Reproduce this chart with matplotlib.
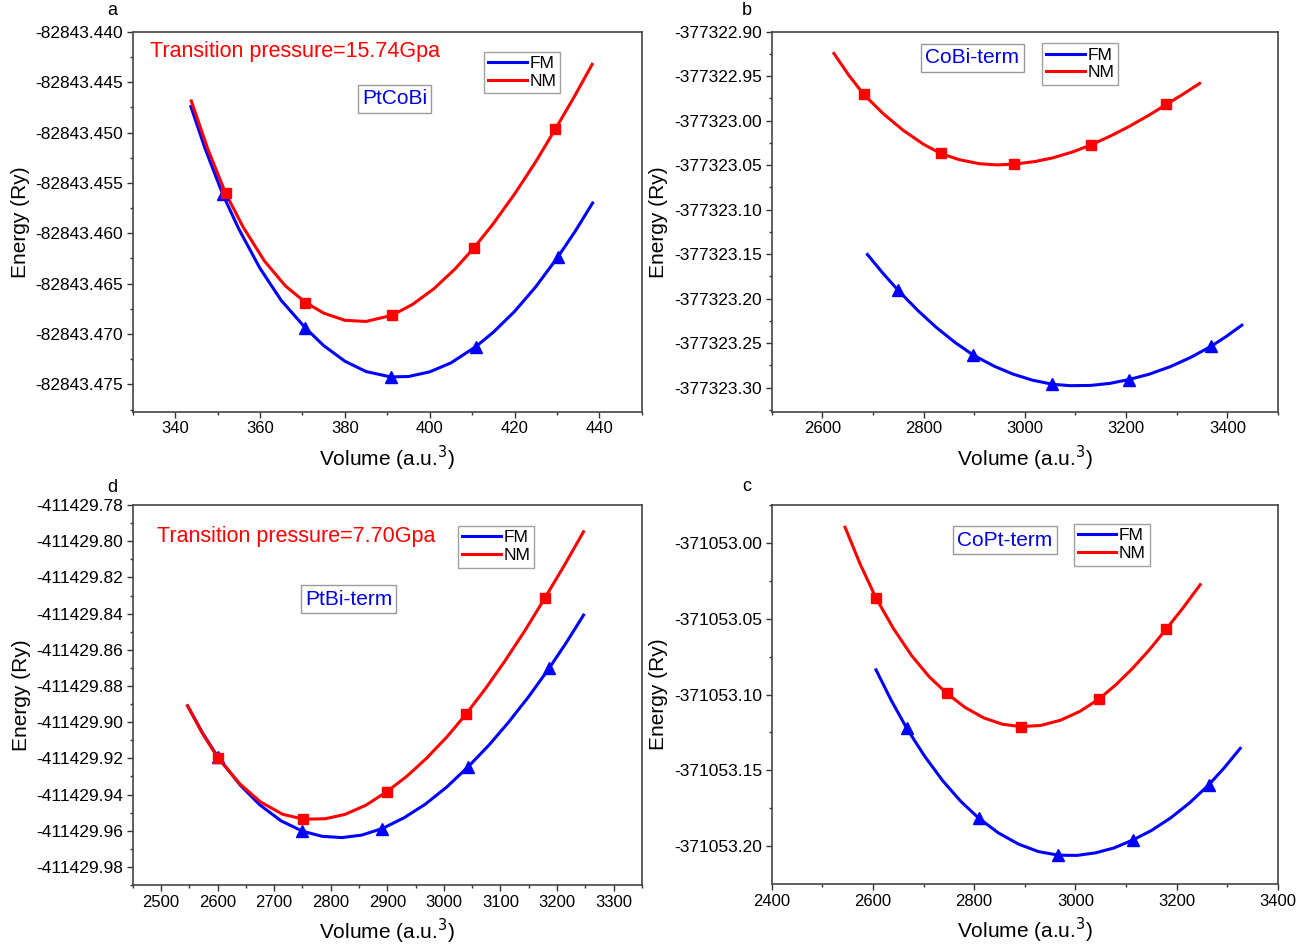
"""
E-V curves (FM vs NM) for PtCoBi and its terminations, 2x2 panel figure.
"""

import matplotlib
matplotlib.use("Agg")
import matplotlib.pyplot as plt
from matplotlib.ticker import MultipleLocator, FormatStrFormatter

plt.rcParams["font.family"] = ["Liberation Sans", "DejaVu Sans"]

# ---- panel a: PtCoBi ----
A_FM_V = [351.2, 370.7, 390.8, 410.8, 430.2]
A_FM_E = [-82843.4561, -82843.4694, -82843.4743, -82843.4713, -82843.4624]
A_NM_V = [351.9, 370.7, 391.1, 410.4, 429.6]
A_NM_E = [-82843.4560, -82843.4669, -82843.4681, -82843.4615, -82843.4497]
A_FM_CURVE_V = [343.7, 347.0, 351.2, 355.0, 360.0, 365.0, 370.7, 375.0, 380.0, 385.0, 390.8,
                395.0, 400.0, 405.0, 410.8, 415.0, 420.0, 425.0, 430.2, 434.3, 438.4]
A_FM_CURVE_E = [-82843.44743, -82843.45153, -82843.45612, -82843.45957, -82843.46348, -82843.46666,
                -82843.46939, -82843.47114, -82843.47269, -82843.47372, -82843.47425, -82843.47421,
                -82843.47375, -82843.47286, -82843.47127, -82843.46982, -82843.46776, -82843.46531,
                -82843.46236, -82843.45980, -82843.45700]
A_NM_CURVE_V = [343.8, 347.8, 351.9, 356.0, 361.0, 366.0, 370.7, 375.0, 380.0, 385.0, 391.1,
                396.0, 401.0, 406.0, 410.4, 415.0, 420.0, 425.0, 429.6, 434.0, 438.3]
A_NM_CURVE_E = [-82843.44687, -82843.45176, -82843.45602, -82843.45937, -82843.46272, -82843.46523,
                -82843.46685, -82843.46792, -82843.46863, -82843.46875, -82843.46814, -82843.46705,
                -82843.46550, -82843.46353, -82843.46147, -82843.45904, -82843.45611, -82843.45290,
                -82843.44968, -82843.44651, -82843.44324]

# ---- panel b: CoBi-term ----
B_FM_V = [2749.6, 2898.6, 3054.7, 3205.6, 3368.4]
B_FM_E = [-377323.1905, -377323.2636, -377323.2962, -377323.2909, -377323.2534]
B_NM_V = [2682.0, 2833.6, 2979.3, 3130.2, 3279.8]
B_NM_E = [-377322.9705, -377323.0368, -377323.0488, -377323.0274, -377322.9817]
B_FM_CURVE_V = [2689.2, 2719.0, 2749.6, 2790.0, 2825.0, 2862.0, 2898.6, 2940.0, 2976.0, 3015.0, 3054.7,
                3090.0, 3130.0, 3168.0, 3205.6, 3245.0, 3287.0, 3328.0, 3368.4, 3398.0, 3428.7]
B_FM_CURVE_E = [-377323.1504, -377323.1709, -377323.1905, -377323.2140, -377323.2322, -377323.2491,
                -377323.2636, -377323.2760, -377323.2846, -377323.2916, -377323.2962, -377323.2978,
                -377323.2975, -377323.2952, -377323.2909, -377323.2850, -377323.2765, -377323.2659,
                -377323.2534, -377323.2424, -377323.2298]
B_NM_CURVE_V = [2623.0, 2652.0, 2682.0, 2720.0, 2760.0, 2800.0, 2833.6, 2870.0, 2910.0, 2945.0, 2979.3,
                3020.0, 3055.0, 3095.0, 3130.2, 3170.0, 3205.0, 3245.0, 3279.8, 3312.0, 3345.4]
B_NM_CURVE_E = [-377322.9244, -377322.9486, -377322.9705, -377322.9919, -377323.0109, -377323.0265,
                -377323.0368, -377323.0437, -377323.0483, -377323.0497, -377323.0488, -377323.0459,
                -377323.0418, -377323.0350, -377323.0274, -377323.0170, -377323.0068, -377322.9939,
                -377322.9817, -377322.9704, -377322.9581]

# ---- panel d: PtBi-term ----
D_FM_V = [2600.0, 2750.0, 2891.2, 3042.9, 3185.9]
D_FM_E = [-411429.9190, -411429.96027, -411429.9588, -411429.9247, -411429.87032]
D_NM_V = [2600.0, 2751.8, 2898.8, 3038.8, 3178.2]
D_NM_E = [-411429.91954, -411429.95364, -411429.93852, -411429.89576, -411429.83161]
D_FM_CURVE_V = [2547.0, 2573.0, 2600.0, 2640.0, 2675.0, 2712.0, 2750.0, 2785.0, 2820.0, 2855.0, 2891.2,
                2930.0, 2967.0, 3005.0, 3042.9, 3080.0, 3114.0, 3150.0, 3185.9, 3216.0, 3247.0]
D_FM_CURVE_E = [-411429.89097, -411429.9057, -411429.9190, -411429.9348, -411429.9458, -411429.9545,
                -411429.96027, -411429.9631, -411429.9638, -411429.9624, -411429.9588, -411429.9528,
                -411429.9454, -411429.9359, -411429.9247, -411429.9126, -411429.9002, -411429.8859,
                -411429.87032, -411429.8563, -411429.84083]
D_NM_CURVE_V = [2547.0, 2573.0, 2600.0, 2640.0, 2676.0, 2715.0, 2751.8, 2790.0, 2825.0, 2862.0, 2898.8,
                2935.0, 2969.0, 3005.0, 3038.8, 3075.0, 3108.0, 3143.0, 3178.2, 3212.0, 3247.0]
D_NM_CURVE_E = [-411429.89097, -411429.9061, -411429.91954, -411429.9343, -411429.9441, -411429.9509,
                -411429.95364, -411429.9534, -411429.9510, -411429.94595, -411429.93852, -411429.9298,
                -411429.9201, -411429.9083, -411429.89576, -411429.8809, -411429.8662, -411429.8496,
                -411429.83161, -411429.8139, -411429.79475]

# ---- panel c: CoPt-term ----
C_FM_V = [2666.8, 2809.7, 2966.5, 3112.8, 3263.0]
C_FM_E = [-371053.12225, -371053.18172, -371053.20595, -371053.19604, -371053.15969]
C_NM_V = [2606.2, 2745.8, 2892.1, 3046.9, 3179.3]
C_NM_E = [-371053.03634, -371053.09912, -371053.12115, -371053.10286, -371053.05683]
C_FM_CURVE_V = [2606.2, 2636.0, 2666.8, 2702.0, 2738.0, 2774.0, 2809.7, 2848.0, 2888.0, 2927.0, 2966.5,
                3003.0, 3040.0, 3076.0, 3112.8, 3150.0, 3188.0, 3225.0, 3263.0, 3294.0, 3325.6]
C_FM_CURVE_E = [-371053.0837, -371053.1037, -371053.12225, -371053.1406, -371053.1569, -371053.1706,
                -371053.18172, -371053.1913, -371053.1987, -371053.2036, -371053.20595, -371053.2061,
                -371053.2044, -371053.2012, -371053.19604, -371053.1897, -371053.1814, -371053.1716,
                -371053.15969, -371053.1483, -371053.13546]
C_NM_CURVE_V = [2545.0, 2575.0, 2606.2, 2641.0, 2676.0, 2711.0, 2745.8, 2782.0, 2819.0, 2856.0, 2892.1,
                2931.0, 2970.0, 3009.0, 3046.9, 3080.0, 3113.0, 3146.0, 3179.3, 3213.0, 3246.5]
C_NM_CURVE_E = [-371052.98965, -371053.0141, -371053.03634, -371053.0567, -371053.0741, -371053.0882,
                -371053.09912, -371053.1085, -371053.1154, -371053.1196, -371053.12115, -371053.1204,
                -371053.1170, -371053.1111, -371053.10286, -371053.0935, -371053.0827, -371053.0705,
                -371053.05683, -371053.04265, -371053.02753]

BLUE = "#0000FF"
RED = "#FF0000"
BOX_BLUE = "#0000E0"


def draw_panel(ax, fm_curve, nm_curve, fm_pts, nm_pts, xlim, ylim, xstep, ystep, yfmt,
               name, name_pos, legend_pos, letter, letter_pos, note=None, note_pos=None):
    ax.plot(fm_curve[0], fm_curve[1], color=BLUE, lw=2.2, label="FM", zorder=3,
            solid_joinstyle="round")
    ax.plot(nm_curve[0], nm_curve[1], color=RED, lw=2.2, label="NM", zorder=3,
            solid_joinstyle="round")
    ax.plot(fm_pts[0], fm_pts[1], ls="none", marker="^", ms=8, color=BLUE, zorder=4)
    ax.plot(nm_pts[0], nm_pts[1], ls="none", marker="s", ms=6.5, color=RED, zorder=4)

    ax.set_xlim(*xlim)
    ax.set_ylim(*ylim)
    ax.xaxis.set_major_locator(MultipleLocator(xstep))
    ax.xaxis.set_minor_locator(MultipleLocator(xstep / 2))
    ax.yaxis.set_major_locator(MultipleLocator(ystep))
    ax.yaxis.set_minor_locator(MultipleLocator(ystep / 2))
    ax.yaxis.set_major_formatter(FormatStrFormatter(yfmt))
    ax.tick_params(which="both", direction="out", top=False, right=False,
                   color="#333333", width=1, pad=3)
    ax.tick_params(axis="y", labelsize=12.5)
    ax.tick_params(axis="x", labelsize=12)
    ax.tick_params(which="major", length=4)
    ax.tick_params(which="minor", length=2.5)
    for sp in ax.spines.values():
        sp.set_color("#444444")
        sp.set_linewidth(1.2)

    ax.set_xlabel("Volume (a.u.$^3$)", fontsize=15, labelpad=5)
    ax.set_ylabel("Energy (Ry)", fontsize=15, labelpad=4)

    ax.text(name_pos[0], name_pos[1], name, transform=ax.transAxes, ha="center", va="center",
            fontsize=15, color=BOX_BLUE,
            bbox=dict(boxstyle="square,pad=0.2", fc="white", ec="#999999", lw=1))
    if note is not None:
        ax.text(note_pos[0], note_pos[1], note, transform=ax.transAxes, ha="left", va="center",
                fontsize=15.5, color=RED)
    leg = ax.legend(loc="upper left", bbox_to_anchor=legend_pos, fontsize=12.5, frameon=True,
                    fancybox=False, edgecolor="#888888", handlelength=2.2, handletextpad=0.15,
                    borderpad=0.25, labelspacing=0.15, borderaxespad=0)
    leg.get_frame().set_linewidth(1)
    ax.text(letter_pos[0], letter_pos[1], letter, transform=ax.transAxes, ha="center",
            va="center", fontsize=13)


def main():
    fig = plt.figure(figsize=(13.13, 9.44), dpi=100)
    ax_a = fig.add_axes([0.1011, 0.5639, 0.3877, 0.4025])
    ax_b = fig.add_axes([0.5877, 0.5639, 0.3856, 0.4025])
    ax_d = fig.add_axes([0.1011, 0.0625, 0.3877, 0.4025])
    ax_c = fig.add_axes([0.5877, 0.0635, 0.3856, 0.4015])

    draw_panel(ax_a, (A_FM_CURVE_V, A_FM_CURVE_E), (A_NM_CURVE_V, A_NM_CURVE_E),
               (A_FM_V, A_FM_E), (A_NM_V, A_NM_E),
               (330, 450), (-82843.4777, -82843.440), 20, 0.005, "%.3f",
               "PtCoBi", (0.5147, 0.823), (0.690, 0.947), "a", (-0.04, 1.055),
               note="Transition pressure=15.74Gpa", note_pos=(0.034, 0.947))
    draw_panel(ax_b, (B_FM_CURVE_V, B_FM_CURVE_E), (B_NM_CURVE_V, B_NM_CURVE_E),
               (B_FM_V, B_FM_E), (B_NM_V, B_NM_E),
               (2500, 3500), (-377323.327, -377322.90), 200, 0.05, "%.2f",
               "CoBi-term", (0.3966, 0.931), (0.534, 0.970), "b", (-0.05, 1.055))
    draw_panel(ax_d, (D_FM_CURVE_V, D_FM_CURVE_E), (D_NM_CURVE_V, D_NM_CURVE_E),
               (D_FM_V, D_FM_E), (D_NM_V, D_NM_E),
               (2450, 3350), (-411429.990, -411429.78), 100, 0.02, "%.2f",
               "PtBi-term", (0.424, 0.7526), (0.639, 0.945), "d", (-0.04, 1.045),
               note="Transition pressure=7.70Gpa", note_pos=(0.0477, 0.916))
    draw_panel(ax_c, (C_FM_CURVE_V, C_FM_CURVE_E), (C_NM_CURVE_V, C_NM_CURVE_E),
               (C_FM_V, C_FM_E), (C_NM_V, C_NM_E),
               (2400, 3400), (-371053.225, -371052.975), 200, 0.05, "%.2f",
               "CoPt-term", (0.4608, 0.9077), (0.597, 0.950), "c", (-0.05, 1.05))

    fig.savefig("out.png", dpi=100)
    plt.close(fig)


if __name__ == "__main__":
    main()
